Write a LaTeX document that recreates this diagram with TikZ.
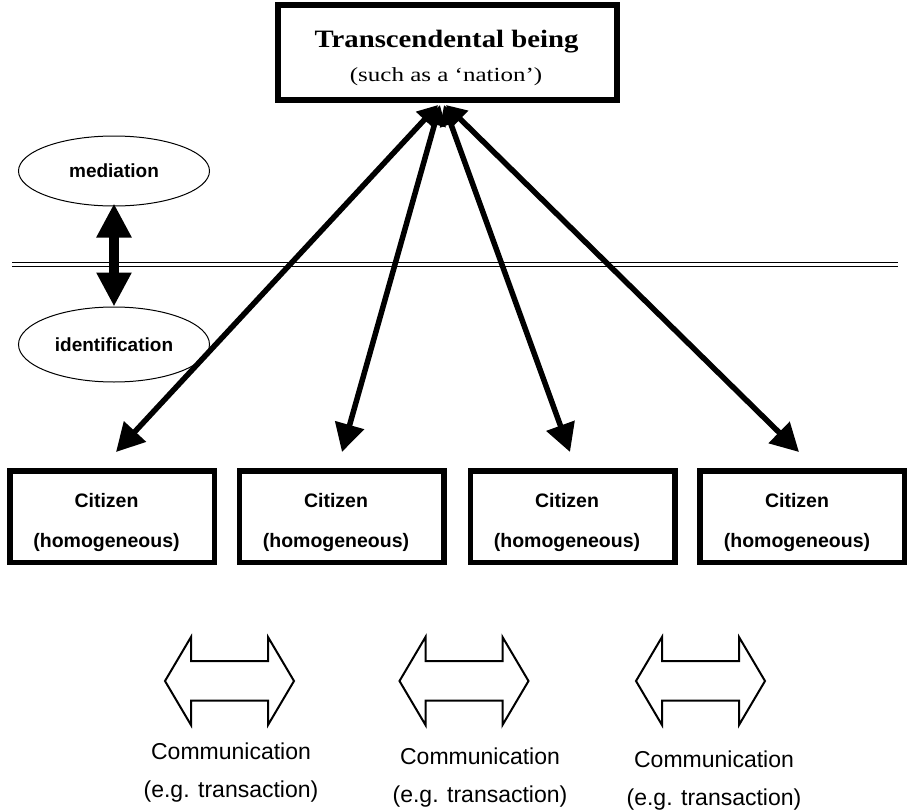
\documentclass[tikz,border=0pt]{standalone}
\usepackage{fontspec}
\setmainfont{Liberation Serif}
\newfontfamily\titlefont[FakeStretch=1.15]{Liberation Serif}
\newfontfamily\subfont[FakeStretch=1.25]{Liberation Serif}
\newfontfamily\lsans{Liberation Sans}
\usetikzlibrary{arrows.meta,shapes.geometric,calc}
\begin{document}
\begin{tikzpicture}[x=1pt,y=-1pt,
  boxstyle/.style={draw, line width=5.5pt, minimum width=204.5pt, minimum height=91.5pt, inner sep=0pt},
  topbox/.style={draw, line width=6pt, minimum width=339pt, minimum height=95pt, inner sep=0pt},
  ell/.style={draw, ellipse, line width=1pt, minimum width=191pt, inner sep=0pt,
    font=\lsans\bfseries\fontsize{19}{22}\selectfont},
  citext/.style={anchor=base, inner sep=0pt, font=\lsans\bfseries\fontsize{19.5}{23}\selectfont},
  commtext/.style={anchor=base, inner sep=0pt, font=\lsans\fontsize{23}{27}\selectfont},
  link/.style={line width=5.5pt, {Triangle[length=20pt,width=22pt]}-{Triangle[length=28pt,width=29pt]}},
  vlink/.style={line width=10pt, {Triangle[length=34pt,width=33pt]}-{Triangle[length=34pt,width=33pt]}},
  commarrow/.pic={\draw[line width=2pt, miter limit=10]
    (-64.5,0) -- (-38.5,-44) -- (-38.5,-20) -- (38.5,-20) -- (38.5,-44) -- (64.5,0)
    -- (38.5,44) -- (38.5,19.5) -- (-38.5,19.5) -- (-38.5,44) -- cycle;}
]
\useasboundingbox (0,0) rectangle (908,811);

% top box
\node[topbox] (top) at (447.5,52.5) {};
\node[anchor=base, inner sep=0pt, font=\titlefont\bfseries\fontsize{25}{30}\selectfont] (title) at (446.5,47) {Transcendental being};
\node[anchor=base, inner sep=0pt, font=\subfont\fontsize{20}{24}\selectfont] (subtitle) at (446,81) {(such as a ‘nation’)};

% mediation / identification
\coordinate (hl1) at (12,264.5);
\coordinate (hl2) at (898,264.5);
\draw[line width=1.3pt, double=white, double distance=2.6pt] (hl1) -- (hl2);
\node[ell, minimum height=70pt] (med) at (114,171) {mediation};
\node[ell, minimum height=75pt] (iden) at (114,344.5) {identification};
\draw[vlink, shorten <=-3pt] (med.south) -- (iden.north);

% citizen boxes
\foreach \i/\x/\tx in {1/112/106.5, 2/341.5/336, 3/572.5/567, 4/802/797} {
  \node[boxstyle] (c\i) at (\x,516.5) {};
  \node[citext] (c\i a) at (\tx,507) {Citizen};
  \node[citext] (c\i b) at (\tx,547) {(homogeneous)};
}

% links
\foreach \i/\bx/\tx in {1/4/-9.5, 2/0.5/-7.5, 3/-2.5/-3.5, 4/-3/-1.5} {
  \coordinate (tt\i) at ($(top.south)+(\tx,2)$);
  \coordinate (bt\i) at ($(c\i.north)+(\bx,-16)$);
  \draw[link] (tt\i) -- (bt\i);
}

% communication arrows
\pic at (229.5,681) {commarrow};
\pic at (464,681) {commarrow};
\pic at (700.5,681) {commarrow};
\node[commtext] (m1a) at (231,759) {Communication};
\node[commtext] (m1b) at (231,797) {(e.g. transaction)};
\node[commtext] (m2a) at (480,764) {Communication};
\node[commtext] (m2b) at (480,802) {(e.g. transaction)};
\node[commtext] (m3a) at (714,767) {Communication};
\node[commtext] (m3b) at (714,805) {(e.g. transaction)};
\end{tikzpicture}
\end{document}
